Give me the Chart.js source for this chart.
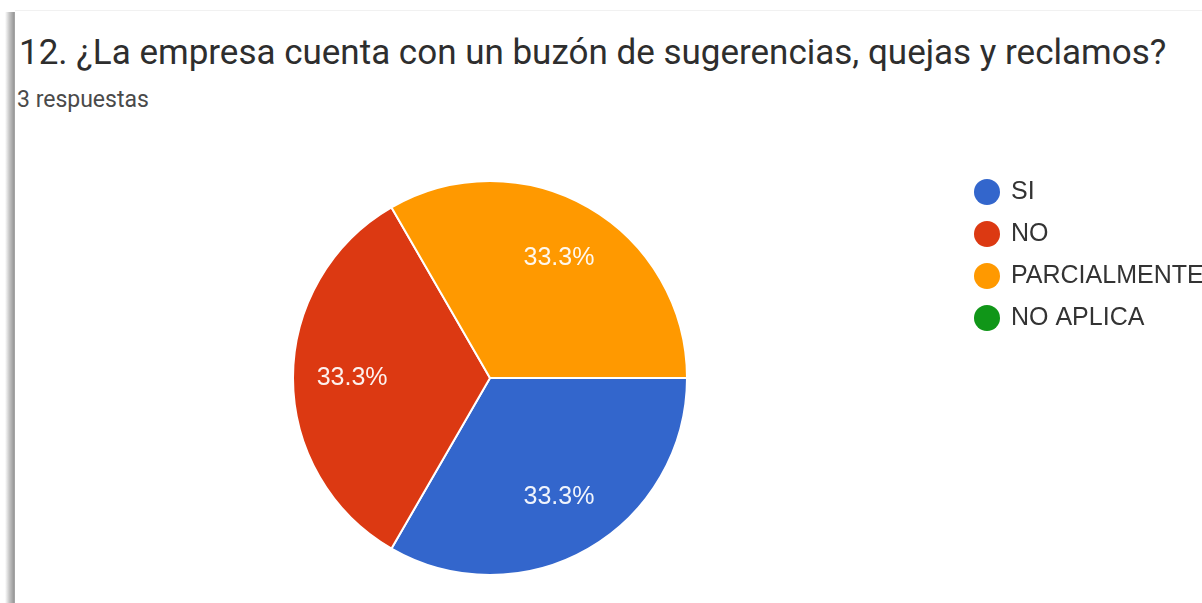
<!DOCTYPE html>
<html lang="es">
<head>
<meta charset="utf-8">
<title>Buzón de sugerencias</title>
<script src="https://cdn.jsdelivr.net/npm/chart.js@4.4.1/dist/chart.umd.min.js"></script>
<style>
  html, body { margin: 0; padding: 0; background: #fff; overflow: hidden; }
  body { width: 1202px; height: 603px; position: relative; }
  .edge {
    position: absolute; left: 5px; top: 12px; bottom: 0; width: 10px;
    background: linear-gradient(to right, rgba(200,200,200,0), #c4c4c4 45%, #9c9c9c 85%, #a8a8a8);
  }
  .topline { position: absolute; left: 15px; right: 0; top: 10px; height: 1px; background: #f1f1f1; }
  .question {
    position: absolute; left: 19px; top: 35px;
    font: 35px/35px Roboto, "Noto Sans", sans-serif; color: #2e2e2e; white-space: nowrap;
  }
  .count {
    position: absolute; left: 17px; top: 88px;
    font: 23px/23px Roboto, "Noto Sans", sans-serif; color: #4a4a4a; white-space: nowrap;
  }
  #wrap { position: absolute; left: 0; top: 0; width: 1202px; height: 603px; }
</style>
</head>
<body>
<div class="edge"></div>
<div class="topline"></div>
<div class="question">12. ¿La empresa cuenta con un buzón de sugerencias, quejas y reclamos?</div>
<div class="count">3 respuestas</div>
<div id="wrap"><canvas id="pie"></canvas></div>

<script>
// answers to question 12
const categories = ['SI', 'NO', 'PARCIALMENTE', 'NO APLICA'];
const responses = [1, 1, 1, 0];
const sliceColors = ['#3366cc', '#dc3912', '#ff9900', '#109618'];

const total = responses.reduce((a, b) => a + b, 0);

// percentage text inside each slice
const sliceLabels = {
    id: 'sliceLabels',
    afterDatasetsDraw(chart) {
        const { ctx } = chart;
        const meta = chart.getDatasetMeta(0);
        ctx.save();
        ctx.font = '25px Arial, "Liberation Sans", sans-serif';
        ctx.fillStyle = 'rgba(255,255,255,0.93)';
        ctx.textAlign = 'center';
        ctx.textBaseline = 'middle';
        meta.data.forEach((arc, i) => {
            const v = responses[i];
            if (!v) return;
            const { x, y, startAngle, endAngle, outerRadius } =
                arc.getProps(['x', 'y', 'startAngle', 'endAngle', 'outerRadius'], true);
            const mid = (startAngle + endAngle) / 2;
            const r = outerRadius * 0.7;
            const pct = (v / total * 100).toFixed(1) + '%';
            ctx.fillText(pct, x + Math.cos(mid) * r, y + Math.sin(mid) * r);
        });
        ctx.restore();
    }
};

const ctx = document.getElementById('pie').getContext('2d');
new Chart(ctx, {
    type: 'pie',
    data: {
        labels: categories,
        datasets: [{
            data: responses,
            backgroundColor: sliceColors,
            borderColor: '#ffffff',
            borderWidth: 2,
            hoverOffset: 0
        }]
    },
    options: {
        responsive: true,
        maintainAspectRatio: false,
        animation: false,
        rotation: 90,
        radius: 197,
        layout: { padding: { left: 21.5, right: 0, top: 162.5, bottom: 9.5 } },
        plugins: {
            tooltip: { enabled: false },
            legend: {
                position: 'right',
                align: 'start',
                maxWidth: 243.5,
                labels: {
                    usePointStyle: true,
                    pointStyle: 'circle',
                    boxWidth: 23,
                    boxHeight: 18.4,
                    padding: 17,
                    color: '#333333',
                    font: { family: 'Arial, "Liberation Sans", sans-serif', size: 25 },
                    generateLabels(chart) {
                        const items = Chart.overrides.pie.plugins.legend.labels.generateLabels(chart);
                        items.forEach(it => { it.lineWidth = 0; it.strokeStyle = it.fillStyle; });
                        return items;
                    }
                }
            }
        }
    },
    plugins: [sliceLabels]
});
</script>
</body>
</html>
